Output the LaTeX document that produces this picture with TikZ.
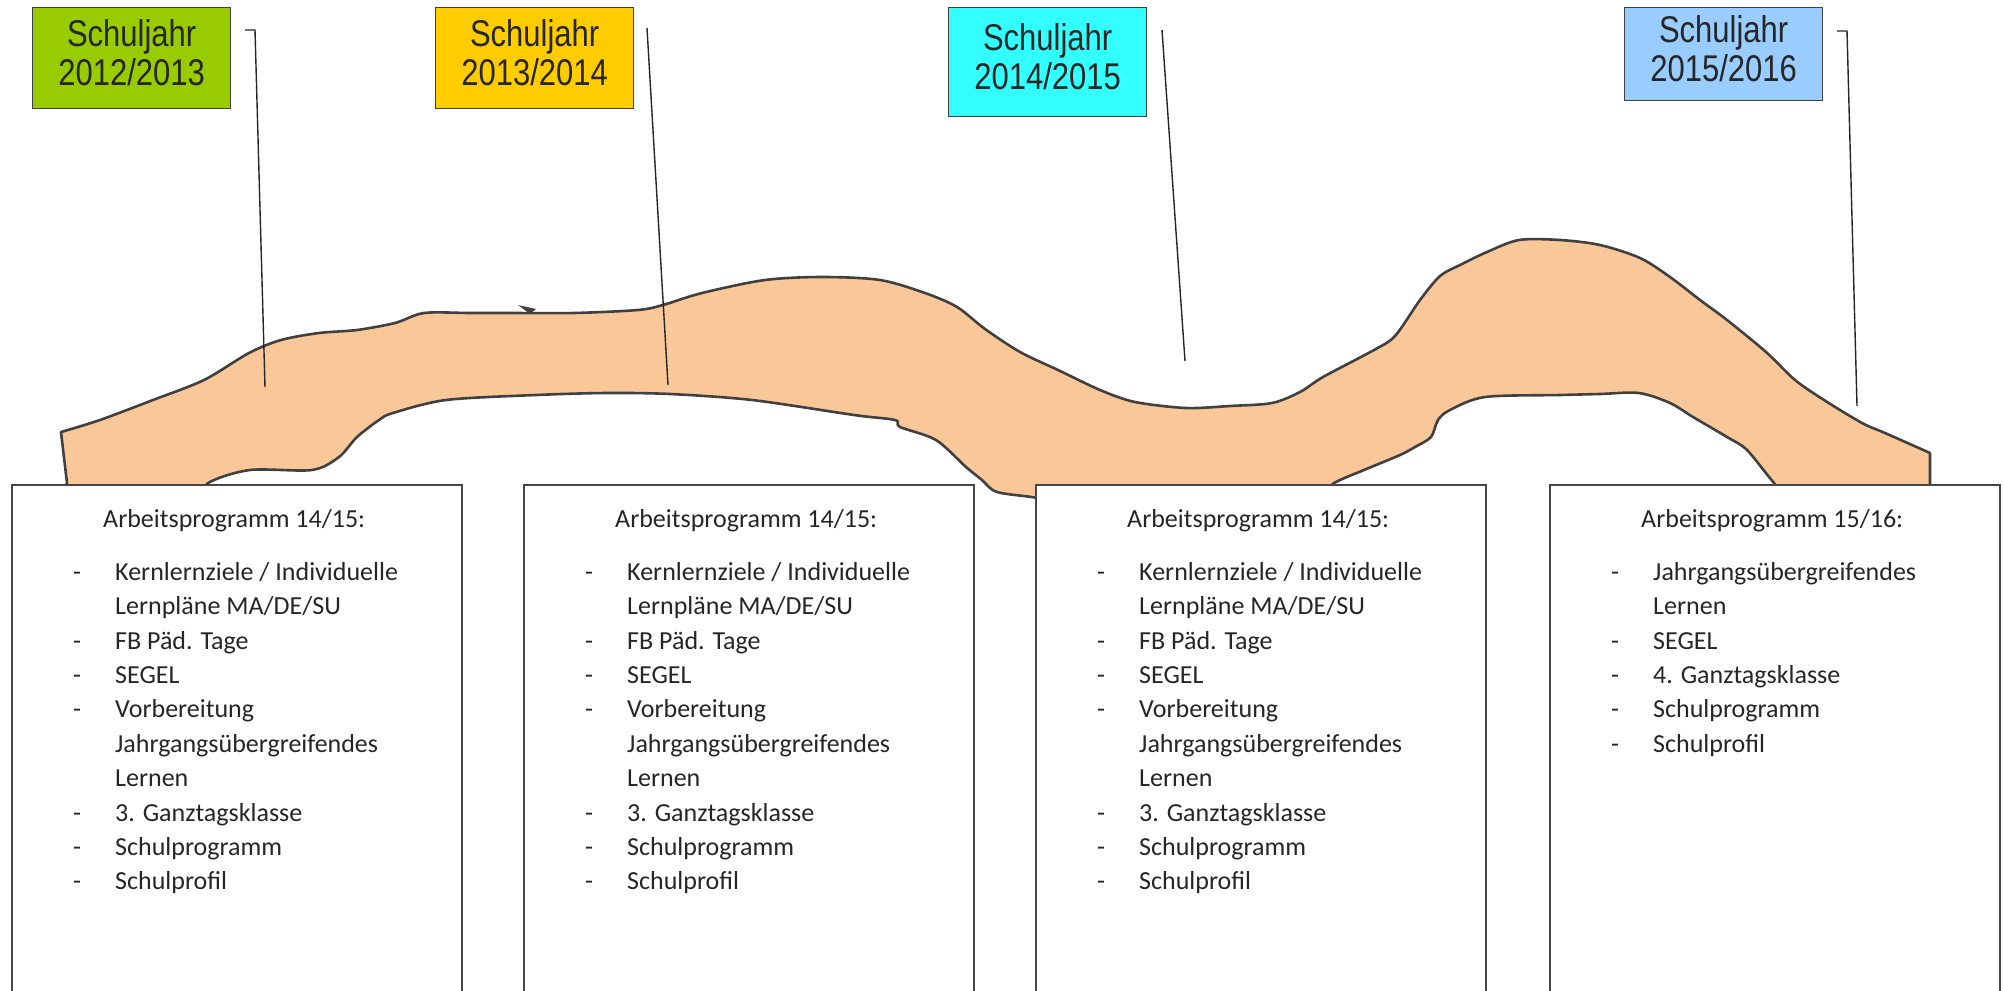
\documentclass[tikz,border=0pt]{standalone}
\usepackage{fontspec}
\setmainfont{Carlito}
\newfontfamily\headfont{Liberation Sans}
\usepackage{xcolor}
\usepackage{tikz}
\usetikzlibrary{positioning}

\definecolor{sjgreen}{HTML}{99CC00}
\definecolor{sjgold}{HTML}{FFCC00}
\definecolor{sjcyan}{HTML}{33FFFF}
\definecolor{sjblue}{HTML}{99CCFF}
\definecolor{ribbonfill}{HTML}{FAC898}
\definecolor{ribbonline}{HTML}{404040}
\definecolor{boxline}{HTML}{474747}
\definecolor{txt}{HTML}{262626}

\begin{document}
\begin{tikzpicture}[
  x=1pt, y=-1pt,
  sj/.style   ={draw=black!75, line width=1.3pt, anchor=north west, inner sep=0pt,
                minimum width=198pt, font=\headfont\fontsize{31}{31}\selectfont, text=black!85},
  lead/.style ={draw=black!85, line width=1.4pt},
  ribbon/.style={draw=ribbonline, fill=ribbonfill, line width=2.6pt, line join=round},
  frame/.style={draw=boxline, fill=white, line width=2pt, anchor=north west,
                minimum width=450pt, minimum height=540pt, inner sep=0pt},
  plist/.style={anchor=north west, inner sep=0pt, text=txt,
                font=\fontsize{26}{34.4}\selectfont},
]

%% page = 2004 x 990 px of the reference, y runs downwards
\useasboundingbox (0,0) rectangle (2004,990);
\clip (0,0) rectangle (2004,990);

%% ─── Ribbon (school years path) ──────────────────────────────────────────────
\draw[ribbon]
  plot[smooth, tension=0.5] coordinates {
    (61,432) (100,420) (153,400) (204,380) (249,353) (281,340) (319,333)
    (357,330) (395,323) (424,313) (470,313) (510,313) (574,313) (638,310)
    (663,305) (702,293) (765,280) (823,277) (880,280) (925,293) (957,307)
    (985,329) (1020,352) (1058,370) (1100,390) (1135,402) (1186,408)
    (1230,406) (1272,403) (1300,392) (1323,377) (1374,350) (1395,336)
    (1420,300) (1440,276) (1460,265) (1487,252) (1519,240) (1560,240)
    (1600,245) (1640,258) (1670,277) (1700,300) (1727,320) (1766,352)
    (1795,380) (1824,400) (1862,423) (1885,433) (1930,453)}
  -- plot[smooth, tension=0.5] coordinates {
    (1930,510) (1800,510) (1774,483) (1747,450) (1727,437) (1693,417)
    (1670,403) (1639,393) (1600,394) (1560,395) (1485,397) (1450,410)
    (1438,420) (1431,437) (1415,447) (1400,455) (1364,470) (1334,483)
    (1300,505) (1100,510) (1038,498) (997,492) (982,480) (966,467)
    (936,440) (900,427) (895,420) (854,415) (752,400) (670,394) (606,393)
    (536,395) (446,400) (393,413) (379,420) (357,437) (339,457) (312,470)
    (250,470) (208,483) (190,505) (75,505) (67,483)}
  -- cycle;
% small burr on the upper edge
\fill[ribbonline] (518,305) -- (536,309) -- (530,314) -- cycle;

%% ─── School year labels ──────────────────────────────────────────────────────
\foreach \n/\x/\c/\h/\ya/\yb in {1/32/sjgreen/101/2012/2013,
                                 2/435/sjgold/101/2013/2014,
                                 3/948/sjcyan/109/2014/2015,
                                 4/1624/sjblue/93/2015/2016} {
  \node[sj, fill=\c, minimum height=\h pt] (sj\n) at (\x,7)
    {\scalebox{1}[1.2]{\begin{tabular}{@{}c@{}}Schuljahr\\\ya/\yb\end{tabular}}};
}

%% leader lines into the ribbon
\coordinate (k1) at (255,30);   \coordinate (e1) at (265,387);
\coordinate (k2) at (647,28);   \coordinate (e2) at (668,385);
\coordinate (k3) at (1162,30);  \coordinate (e3) at (1185,361);
\coordinate (k4) at (1847,31);  \coordinate (e4) at (1857,406);

\draw[lead] ([xshift=-10pt]k1) -- (k1) -- (e1);
\draw[lead] (k2) -- (e2);
\draw[lead] (k3) -- (e3);
\draw[lead] ([xshift=-10pt]k4) -- (k4) -- (e4);

%% ─── Work programme boxes ────────────────────────────────────────────────────
\foreach \n/\x in {1/11, 2/523, 3/1035} {
  \node[frame] (fr\n) at (\x,484) {};
  \node[plist] (ap\n) at ([xshift=62pt,yshift=-19pt]fr\n.north west) {%
    \begin{tabular}{@{}p{42pt}@{}l@{}}
      \multicolumn{2}{@{\hspace{30pt}}l@{}}{Arbeitsprogramm 14/15:}\\[18.6pt]
      - & Kernlernziele / Individuelle\\
        & Lernpläne MA/DE/SU\\
      - & FB Päd. Tage\\
      - & SEGEL\\
      - & Vorbereitung\\
        & Jahrgangsübergreifendes\\
        & Lernen\\
      - & 3. Ganztagsklasse\\
      - & Schulprogramm\\
      - & Schulprofil
    \end{tabular}};
}

\node[frame] (fr4) at (1549,484) {};
\node[plist] (ap4) at ([xshift=62pt,yshift=-19pt]fr4.north west) {%
  \begin{tabular}{@{}p{42pt}@{}l@{}}
    \multicolumn{2}{@{\hspace{30pt}}l@{}}{Arbeitsprogramm 15/16:}\\[18.6pt]
    - & Jahrgangsübergreifendes\\
      & Lernen\\
    - & SEGEL\\
    - & 4. Ganztagsklasse\\
    - & Schulprogramm\\
    - & Schulprofil
  \end{tabular}};

\end{tikzpicture}
\end{document}
